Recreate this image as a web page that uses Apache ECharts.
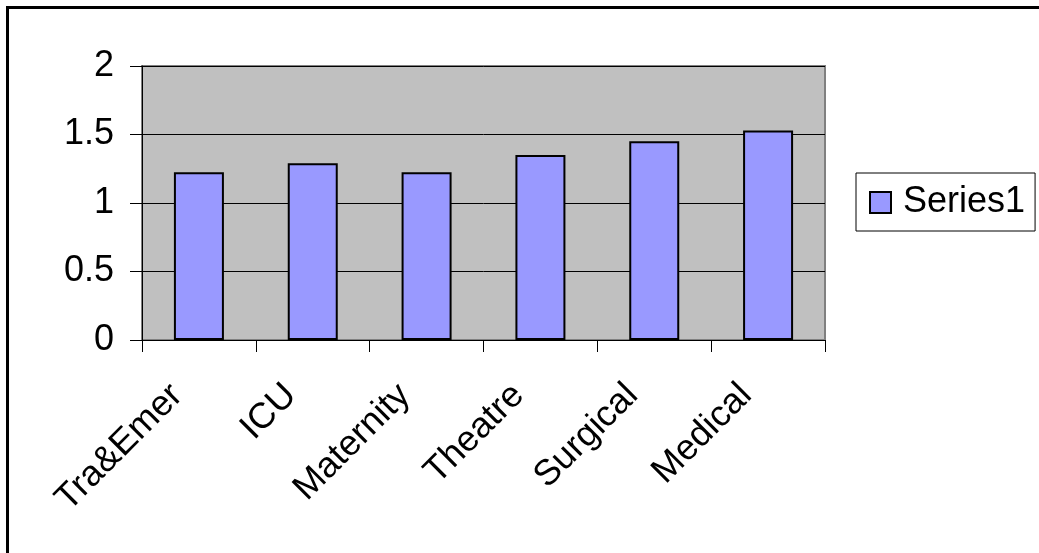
<!DOCTYPE html>
<html>
<head>
<meta charset="utf-8">
<script src="https://cdn.jsdelivr.net/npm/echarts@6/dist/echarts.min.js"></script>
<style>
  html, body { margin: 0; padding: 0; background: #ffffff; }
  #chart { width: 1039px; height: 553px; }
</style>
</head>
<body>
<div id="chart"></div>
<script>
// Ward categories and their values
const categories = ['Tra&Emer', 'ICU', 'Maternity', 'Theatre', 'Surgical', 'Medical'];
const series1 = [1.225, 1.29, 1.225, 1.35, 1.45, 1.53];
const seriesName = 'Series1';
const yTicks = { min: 0, max: 2, interval: 0.5 };

const FONT = "'Liberation Sans', Arial, sans-serif";

const chart = echarts.init(document.getElementById('chart'), null, { renderer: 'canvas' });

chart.setOption({
  animation: false,
  backgroundColor: '#ffffff',
  textStyle: { fontFamily: FONT, color: '#000' },
  grid: {
    left: 142, top: 66, width: 683, height: 274,
    show: true,
    backgroundColor: '#c0c0c0',
    borderColor: '#808080',
    borderWidth: 2
  },
  legend: {
    show: true,
    orient: 'vertical',
    left: 856, top: 173,
    padding: [10, 10, 9, 13],
    borderColor: '#000',
    borderWidth: 1,
    backgroundColor: '#fff',
    itemWidth: 21, itemHeight: 21,
    itemGap: 0,
    textStyle: { fontSize: 36, lineHeight: 39, fontFamily: FONT, color: '#000', padding: [0, 0, 0, 7] },
    data: [{ name: seriesName, icon: 'rect', itemStyle: { borderColor: '#000', borderWidth: 2 } }]
  },
  xAxis: {
    type: 'category',
    data: categories,
    boundaryGap: true,
    axisLine: { show: true, lineStyle: { color: '#000', width: 1 } },
    axisTick: { show: true, length: 12, alignWithLabel: false, lineStyle: { color: '#000' } },
    axisLabel: {
      rotate: 45,
      interval: 0,
      fontSize: 36,
      fontFamily: FONT,
      color: '#000',
      margin: 28,
      padding: [0, 31, 0, 0]
    },
    splitLine: { show: false }
  },
  yAxis: {
    type: 'value',
    min: yTicks.min, max: yTicks.max, interval: yTicks.interval,
    axisLine: { show: true, lineStyle: { color: '#000', width: 1 } },
    axisTick: { show: true, length: 12, lineStyle: { color: '#000' } },
    axisLabel: { fontSize: 36, fontFamily: FONT, color: '#000', margin: 28 },
    splitLine: { show: true, lineStyle: { color: '#000', width: 1 } }
  },
  series: [{
    name: seriesName,
    type: 'bar',
    data: series1,
    barWidth: 50,
    itemStyle: { color: '#9999ff', borderColor: '#000', borderWidth: 2 }
  }],
  graphic: [{
    type: 'rect',
    shape: { x: 7.5, y: 7.5, width: 1100, height: 600 },
    style: { fill: null, stroke: '#000', lineWidth: 3 },
    silent: true,
    z: 100
  }]
});
</script>
</body>
</html>
